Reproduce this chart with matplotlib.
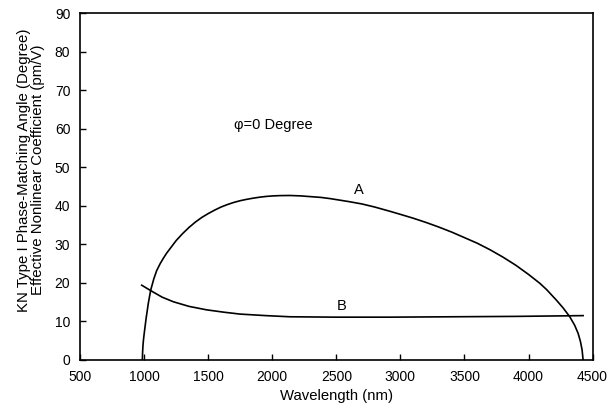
import numpy as np
import matplotlib.pyplot as plt

plt.rcParams['font.family'] = ['Liberation Sans', 'DejaVu Sans']

# curve A: phase-matching angle (degree)
wl_a = [986, 988, 991, 995, 1001, 1015, 1033, 1051, 1075, 1098, 1125, 1150,
        1175, 1200, 1250, 1300, 1350, 1400, 1450, 1500, 1550, 1600, 1650,
        1700, 1750, 1800, 1850, 1900, 1950, 2000, 2060, 2138, 2220, 2300,
        2380, 2450, 2600, 2700, 2800, 2918, 3000, 3100, 3200, 3300, 3400,
        3490, 3600, 3700, 3800, 3900, 4000, 4088, 4140, 4218, 4270, 4322,
        4360, 4387, 4405, 4418, 4426]
ang_a = [0.0, 2.0, 3.8, 5.3, 7.0, 10.7, 14.8, 18.1, 21.0, 23.2, 25.0, 26.4,
         27.7, 28.8, 31.0, 32.8, 34.4, 35.8, 37.0, 38.0, 38.9, 39.7, 40.35,
         40.9, 41.35, 41.7, 42.0, 42.25, 42.45, 42.58, 42.67, 42.7, 42.6,
         42.4, 42.2, 41.9, 41.1, 40.5, 39.7, 38.6, 37.8, 36.8, 35.7, 34.5,
         33.2, 31.9, 30.3, 28.6, 26.7, 24.6, 22.2, 19.9, 18.3, 15.5, 13.5,
         11.2, 9.0, 6.9, 4.8, 2.6, 0.0]

# curve B: effective nonlinear coefficient (pm/V)
wl_b = [981, 1051, 1140, 1228, 1350, 1488, 1620, 1748, 1950, 2138, 2500,
        2918, 3400, 3900, 4426]
d_b = [19.4, 18.0, 16.3, 15.1, 13.9, 13.0, 12.4, 11.9, 11.5, 11.2, 11.1,
       11.1, 11.2, 11.3, 11.5]

fig = plt.figure(figsize=(6.16, 4.18), dpi=100)
ax = fig.add_axes([0.13, 0.139, 0.832, 0.829])

ax.plot(wl_a, ang_a, color='black', lw=1.2)
ax.plot(wl_b, d_b, color='black', lw=1.2)

ax.text(2676, 44, 'A', fontsize=10.5, ha='center', va='center')
ax.text(2544, 14, 'B', fontsize=10.5, ha='center', va='center')
ax.text(1700, 61, 'φ=0 Degree', fontsize=10.5, ha='left', va='center')

ax.set_xlim(500, 4500)
ax.set_ylim(0, 90)
ax.set_xticks(np.arange(500, 4501, 500))
ax.set_yticks(np.arange(0, 91, 10))
ax.tick_params(direction='in', length=4, width=1, labelsize=10, pad=7)
for s in ax.spines.values():
    s.set_linewidth(1.2)

ax.set_xlabel('Wavelength (nm)', fontsize=10.7, labelpad=4)
ax.set_ylabel('KN Type I Phase-Matching Angle (Degree)\nEffective Nonlinear Coefficient (pm/V)',
              fontsize=10.8, linespacing=1.0)
ax.yaxis.set_label_coords(-0.068, 0.548)

fig.savefig('out.png', dpi=100)
